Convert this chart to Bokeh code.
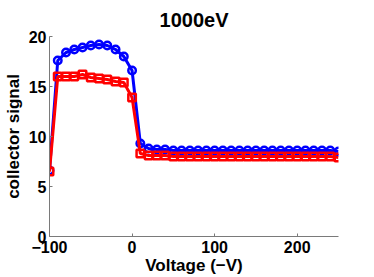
from bokeh.plotting import figure
from bokeh.models import FixedTicker, Range1d
from bokeh.embed import file_html
from bokeh.resources import INLINE

voltage = [-100, -90, -80, -70, -60, -50, -40, -30, -20, -10, 0, 10, 20, 30, 40, 50, 60, 70,
           80, 90, 100, 110, 120, 130, 140, 150, 160, 170, 180, 190, 200, 210, 220, 230, 240, 250]
blue_signal = [6.6, 17.6, 18.4, 18.7, 18.9, 19.1, 19.2, 19.1, 18.7, 18.0, 16.6, 9.3, 8.8, 8.7,
               8.7, 8.6, 8.6, 8.6, 8.6, 8.6, 8.6, 8.6, 8.6, 8.6, 8.6, 8.6, 8.6, 8.6, 8.6, 8.6,
               8.6, 8.6, 8.6, 8.6, 8.6, 8.5]
red_signal = [6.5, 16.0, 16.0, 16.0, 16.2, 15.9, 15.8, 15.7, 15.5, 15.4, 13.9, 8.3, 8.1, 8.1,
              8.1, 8.0, 8.0, 8.0, 8.0, 8.0, 8.0, 8.0, 8.0, 8.0, 8.0, 8.0, 8.0, 8.0, 8.0, 8.0,
              8.0, 8.0, 8.0, 8.0, 8.0, 7.9]
x_ticks = [-100, 0, 100, 200]
x_tick_labels = ["\u2212100", "0", "100", "200"]
y_ticks = [0, 5, 10, 15, 20]

FONT = "Liberation Sans"

p = figure(frame_width=289, frame_height=200, output_backend="svg", toolbar_location=None,
           x_range=Range1d(-100, 250), y_range=Range1d(0, 20),
           min_border_left=49, min_border_right=34, min_border_top=36, min_border_bottom=40,
           title="1000eV")
p.outline_line_color = None
p.background_fill_color = "white"
p.border_fill_color = "white"
p.xgrid.visible = False
p.ygrid.visible = False

p.title.text_font = FONT
p.title.text_font_size = "20px"
p.title.text_font_style = "bold"
p.title.text_color = "black"
p.title.align = "center"
p.title.standoff = 11

for ax in (p.xaxis[0], p.yaxis[0]):
    ax.axis_line_color = "#7a7a7a"
    ax.major_tick_line_color = "#7a7a7a"
    ax.major_tick_in = 3
    ax.major_tick_out = 0
    ax.minor_tick_line_color = None
    ax.major_label_text_font = FONT
    ax.major_label_text_font_size = "16px"
    ax.major_label_text_font_style = "bold"
    ax.major_label_text_color = "black"
    ax.axis_label_text_font = FONT
    ax.axis_label_text_font_size = "17px"
    ax.axis_label_text_font_style = "bold"
    ax.axis_label_text_color = "black"

p.xaxis[0].major_label_standoff = 4
p.xaxis[0].axis_label_standoff = 0
p.yaxis[0].major_label_standoff = 3
p.yaxis[0].axis_label_standoff = 3

p.xaxis[0].ticker = FixedTicker(ticks=x_ticks)
p.xaxis[0].major_label_overrides = dict(zip(x_ticks, x_tick_labels))
p.yaxis[0].ticker = FixedTicker(ticks=y_ticks)
p.xaxis[0].axis_label = "Voltage (\u2212V)"
p.yaxis[0].axis_label = "collector signal"

p.line(voltage, blue_signal, line_color="blue", line_width=3)
p.scatter(voltage, blue_signal, marker="circle", size=7.5, line_color="blue", line_width=2.5,
          fill_color=None)
p.line(voltage, red_signal, line_color="red", line_width=3)
p.scatter(voltage, red_signal, marker="square", size=7.5, line_color="red", line_width=2.5,
          fill_color=None)

open("out.html", "w").write(file_html(p, INLINE))
